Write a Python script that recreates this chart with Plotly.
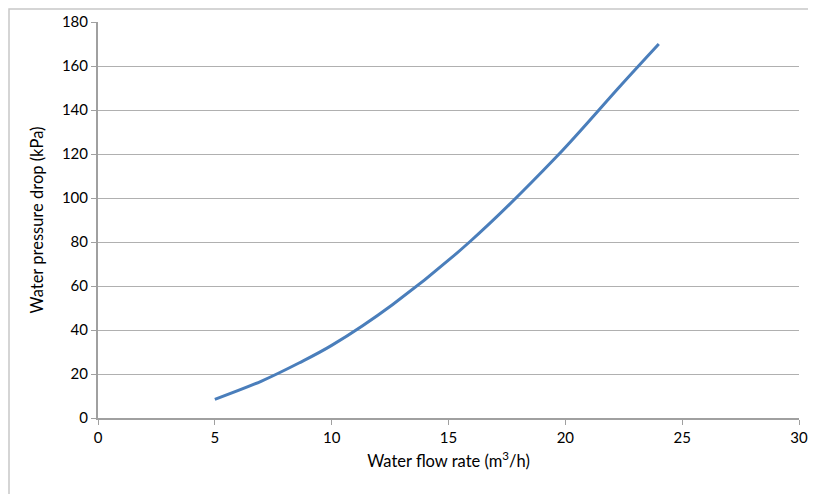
import plotly.graph_objects as go

flow_rate = [5.0, 7.0, 8.6, 10.0, 12.6, 15.9, 19.6, 22.4, 24.0]
pressure_drop = [8.5, 16.8, 25.0, 33.0, 51.5, 80.0, 118.5, 151.5, 170.0]

x_ticks = [0, 5, 10, 15, 20, 25, 30]
y_ticks = [0, 20, 40, 60, 80, 100, 120, 140, 160, 180]

# page body has an 8px margin, so the figure starts at screen (8, 8)
W, H = 808, 486
L, R, T, B = 90, 17, 14, 76
pw = W - L - R
ph = H - T - B

fig = go.Figure()
fig.add_trace(go.Scatter(
    x=flow_rate, y=pressure_drop, mode="lines",
    line=dict(color="#4A7EBB", width=3, shape="spline", smoothing=1.0),
    showlegend=False, hoverinfo="x+y",
))

font = dict(family="Lato, Open Sans, sans-serif", size=15, color="#000000")
title_font = dict(family="Lato, Open Sans, sans-serif", size=16.5, color="#000000")

fig.update_layout(
    width=W, height=H,
    margin=dict(l=L, r=R, t=T, b=B, pad=0, autoexpand=False),
    paper_bgcolor="white", plot_bgcolor="white",
    font=font,
    xaxis=dict(
        range=[0, 30], tickvals=x_ticks, ticktext=[str(v) for v in x_ticks],
        showgrid=False, zeroline=False, automargin=False,
        showline=True, linecolor="#A0A0A0", linewidth=2,
        ticks="outside", ticklen=5, tickcolor="#A0A0A0", tickwidth=1,
        title=dict(text="Water flow rate (m<sup>3</sup>/h)", font=title_font, standoff=10),
        tickfont=font, fixedrange=True,
    ),
    yaxis=dict(
        range=[0, 180], tickvals=y_ticks, ticktext=[str(v) for v in y_ticks],
        showgrid=True, gridcolor="#B0B0B0", gridwidth=1, zeroline=False, automargin=False,
        showline=True, linecolor="#A0A0A0", linewidth=2,
        ticks="outside", ticklen=5, tickcolor="#A0A0A0", tickwidth=1,
        title=dict(text="Water pressure drop (kPa)", font=title_font, standoff=14),
        tickfont=font, fixedrange=True,
    ),
    shapes=[dict(
        type="rect", xref="paper", yref="paper",
        x0=(1 - L) / pw, x1=(W + 10 - L) / pw,
        y0=-(B + 10) / ph, y1=1 + (T - 1) / ph,
        line=dict(color="#C8C8C8", width=1.5), fillcolor="rgba(0,0,0,0)",
        layer="below",
    )],
)

fig.write_html("out.html")
